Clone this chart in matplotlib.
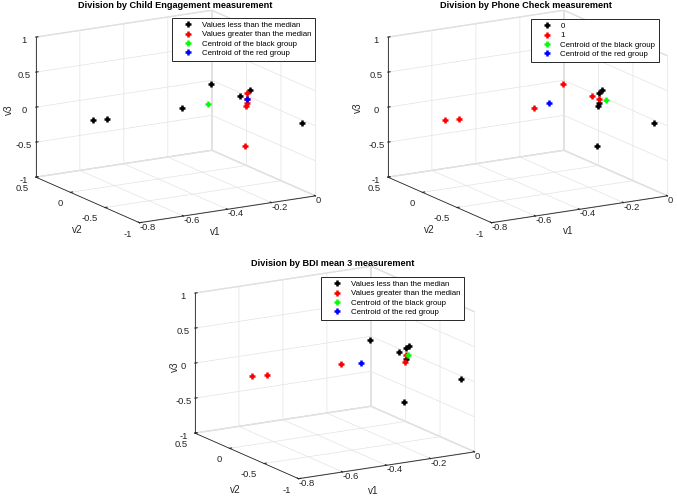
import numpy as np
import matplotlib.pyplot as plt
from matplotlib.lines import Line2D

plt.rcParams['font.family'] = ['Liberation Sans', 'DejaVu Sans']

# coordinates of the 12 points (same in every panel)
v1 = [-0.60, -0.55, -0.40, -0.30, -0.20, -0.20, -0.20, -0.20, -0.20, -0.20, -0.02, -0.20]
v2 = [0.31, 0.26, -0.34, -0.44, -0.55, -0.65, -0.69, -0.64, -0.64, -0.63, -0.87, -0.61]
v3 = [-0.20, -0.18, 0.16, 0.50, 0.32, 0.42, 0.48, 0.32, 0.26, 0.22, 0.00, -0.36]

# group of each point per panel (1 = red group)
child_group = [0, 0, 0, 0, 0, 1, 0, 1, 1, 1, 0, 1]
phone_group = [1, 1, 1, 1, 1, 0, 0, 1, 0, 0, 0, 0]
bdi_group = [1, 1, 1, 0, 0, 0, 0, 1, 0, 1, 0, 0]

# centroids (black group, red group)
child_cent = [(-0.30, -0.40, 0.20), (-0.20, -0.64, 0.32)]
phone_cent = [(-0.20, -0.75, 0.35), (-0.35, -0.40, 0.23)]
bdi_cent = [(-0.20, -0.67, 0.33), (-0.30, -0.31, 0.12)]

titles = ['Division by Child Engagement measurement',
          'Division by Phone Check measurement',
          'Division by BDI mean 3 measurement']
median_labels = ['Values less than the median', 'Values greater than the median']
phone_labels = ['0', '1']

fig = plt.figure(figsize=(6.77, 4.98), dpi=100)


def px(x, y):
    return x / 677, 1 - y / 498


def panel(rect, groups, cent, labels, title, title_xy, leg_xy, lab_xy):
    ax = fig.add_axes(rect, projection='3d', computed_zorder=False)
    ax.set_proj_type('ortho')
    ax.view_init(elev=15, azim=-120.5)
    ax.set_box_aspect((1, 1, 0.71), zoom=1.4)
    x = np.array(v1)
    y = np.array(v2)
    z = np.array(v3)
    g = np.array(groups)
    kw = dict(linestyle='none', marker='+', markersize=5, markeredgewidth=1.8)
    # zoom > 1 shrinks the clip box, so draw the marks unclipped
    ax.plot(x[g == 0], y[g == 0], z[g == 0], color='black', clip_on=False, **kw)
    ax.plot(x[g == 1], y[g == 1], z[g == 1], color='red', clip_on=False, **kw)
    ax.plot([cent[0][0]], [cent[0][1]], [cent[0][2]], color='#00ff00', clip_on=False, **kw)
    ax.plot([cent[1][0]], [cent[1][1]], [cent[1][2]], color='blue', clip_on=False, **kw)

    ax.set_xlim(-0.8, 0)
    ax.set_ylim(-1, 0.5)
    ax.set_zlim(-1, 1)
    ax.set_xticks([-0.8, -0.6, -0.4, -0.2, 0])
    ax.set_xticklabels(['-0.8', '-0.6', '-0.4', '-0.2', '0'], ha='left')
    ax.set_yticks([-1, -0.5, 0, 0.5])
    ax.set_yticklabels(['-1', '-0.5', '0', '0.5'], ha='right')
    ax.set_zticks([-1, -0.5, 0, 0.5, 1])
    ax.set_zticklabels(['-1', '-0.5', '0', '0.5', '1'])
    ax.tick_params(labelsize=6.8, colors='#262626')
    ax.tick_params(axis='x', pad=-8)
    ax.tick_params(axis='y', pad=-4.5)
    ax.tick_params(axis='z', pad=-4.5)
    for axis in (ax.xaxis, ax.yaxis, ax.zaxis):
        axis.set_pane_color((1, 1, 1, 1))
        axis.pane.set_edgecolor('#dcdcdc')
        axis.line.set_color('#262626')
        axis.line.set_linewidth(0.6)
        axis._axinfo['grid']['color'] = '#e3e3e3'
        axis._axinfo['grid']['linewidth'] = 0.5
        axis._axinfo['tick']['inward_factor'] = 0.0
        axis._axinfo['tick']['outward_factor'] = 0.15

    # axis names placed like the reference
    fig.text(*px(*lab_xy[0]), 'v1', fontsize=7.2, ha='center', va='center', color='#262626')
    fig.text(*px(*lab_xy[1]), 'v2', fontsize=7.2, ha='center', va='center', color='#262626')
    fig.text(*px(*lab_xy[2]), 'v3', fontsize=7.2, ha='center', va='center', rotation=90,
             color='#262626')

    fig.text(*px(*title_xy), title, ha='center', va='center', fontsize=6.6, fontweight='bold')
    handles = [Line2D([], [], color=c, **kw) for c in ('black', 'red', '#00ff00', 'blue')]
    leg = ax.legend(handles, labels + ['Centroid of the black group', 'Centroid of the red group'],
                    loc='upper right', bbox_to_anchor=px(*leg_xy),
                    bbox_transform=fig.transFigure, fontsize=5.7, fancybox=False,
                    framealpha=1, edgecolor='#262626', borderpad=0.45, labelspacing=0.22,
                    handlelength=3.1, handletextpad=0.2, borderaxespad=0)
    leg.get_frame().set_linewidth(0.7)
    return ax


panel([0.035, 0.535, 0.44, 0.45], child_group, child_cent, median_labels, titles[0], (175, 5),
      (315, 18), [(215, 232), (77, 230), (9, 110)])
panel([0.555, 0.535, 0.44, 0.45], phone_group, phone_cent, phone_labels, titles[1], (526, 5),
      (659, 19), [(568, 231), (429, 230), (358, 108)])
panel([0.27, 0.021, 0.44, 0.45], bdi_group, bdi_cent, median_labels, titles[2], (333, 263),
      (464, 277), [(373, 491), (235, 490), (175, 367)])

fig.savefig('out.png', dpi=100)
